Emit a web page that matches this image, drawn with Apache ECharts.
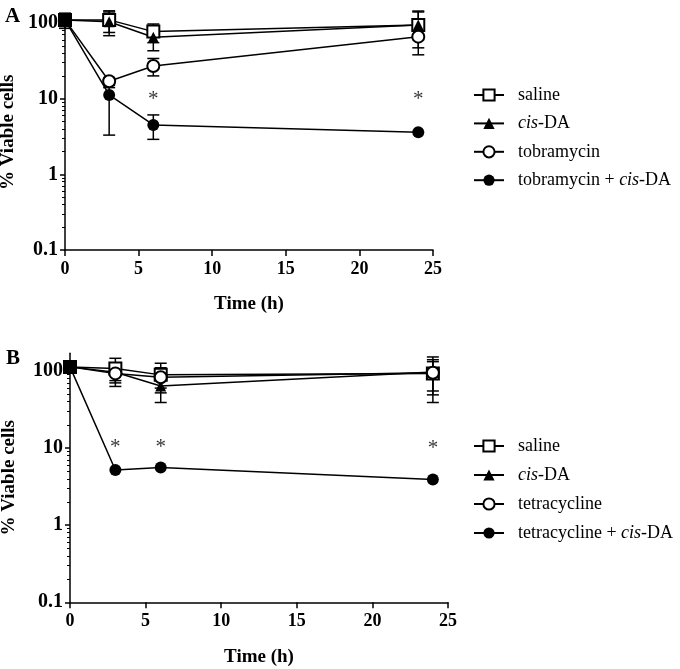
<!DOCTYPE html>
<html>
<head>
<meta charset="utf-8">
<script src="https://cdn.jsdelivr.net/npm/echarts@6/dist/echarts.min.js"></script>
<style>
html,body{margin:0;padding:0;background:#fff;}
#chart{width:680px;height:669px;}
</style>
</head>
<body>
<div id="chart"></div>
<script>
// ---- data ----
const time = [0, 3, 6, 24];
const xTicks = [0, 5, 10, 15, 20, 25];
const yTickLabels = [0.1, 1, 10, 100];
const yMinorTicks = [0.2,0.3,0.4,0.5,0.6,0.7,0.8,0.9,2,3,4,5,6,7,8,9,20,30,40,50,60,70,80,90];

// Panel A
const salineA = [110, 110, 77, 94];
const cisDA_A = [110, 104, 65, 94];
const tobraA = [110, 17, 27, 66];
const tobraCisA = [110, 11.2, 4.5, 3.6];
const salineA_err = [[0, 90, 135], [3, 75, 145], [6, 55, 97], [24, 60, 144]];
const cisDA_A_err = [[0, 85, 130], [3, 68, 140], [6, 43, 90], [24, 47, 140]];
const tobraA_err = [[3, 15, 19], [6, 20, 34], [24, 38, 100]];
const tobraCisA_err = [[3, 3.3, 14], [6, 2.9, 6.1]];
const asteriskA = [[6, 11], [24, 11]];

// Panel B
const salineB = [113, 108, 89, 93];
const cisDA_B = [113, 96, 64, 97];
const tetraB = [113, 93, 83, 95];
const tetraCisB = [113, 5.2, 5.6, 3.9];
const salineB_err = [[3, 70, 146], [6, 52, 126], [24, 49, 152]];
const cisDA_B_err = [[3, 63, 120], [6, 39, 100], [24, 39, 132]];
const tetraB_err = [[3, 75, 115], [6, 60, 110], [24, 55, 140]];
const asteriskB = [[3, 11.5], [6, 11.5], [24, 11]];

const legendA = ['saline', 'cis-DA', 'tobramycin', 'tobramycin + cis-DA'];
const legendB = ['saline', 'cis-DA', 'tetracycline', 'tetracycline + cis-DA'];

// ---- styling helpers ----
const SERIF = '"Liberation Serif", "Times New Roman", serif';
const BLACK = '#000';

function pts(vals) { return time.map((t, i) => [t, vals[i]]); }

function errRender(params, api) {
  const x = api.value(0), lo = api.value(1), hi = api.value(2);
  const p1 = api.coord([x, lo]), p2 = api.coord([x, hi]);
  const w = 6;
  const st = { stroke: BLACK, lineWidth: 1.5 };
  return { type: 'group', children: [
    { type: 'line', shape: { x1: p1[0], y1: p1[1], x2: p2[0], y2: p2[1] }, style: st },
    { type: 'line', shape: { x1: p1[0] - w, y1: p1[1], x2: p1[0] + w, y2: p1[1] }, style: st },
    { type: 'line', shape: { x1: p2[0] - w, y1: p2[1], x2: p2[0] + w, y2: p2[1] }, style: st }
  ]};
}

const markerStyles = {
  square: { symbol: 'rect', symbolSize: 12, itemStyle: { color: '#fff', borderColor: BLACK, borderWidth: 2 } },
  triangle: { symbol: 'triangle', symbolSize: 11, itemStyle: { color: BLACK, borderColor: BLACK, borderWidth: 0 } },
  open: { symbol: 'circle', symbolSize: 12, itemStyle: { color: '#fff', borderColor: BLACK, borderWidth: 2 } },
  filled: { symbol: 'circle', symbolSize: 12, itemStyle: { color: BLACK, borderColor: BLACK, borderWidth: 0 } }
};

function lineSeries(name, vals, marker, xi, yi) {
  const m = markerStyles[marker];
  return {
    type: 'line', name: name, xAxisIndex: xi, yAxisIndex: yi,
    data: pts(vals), symbol: m.symbol, symbolSize: m.symbolSize,
    showAllSymbol: true, itemStyle: m.itemStyle,
    lineStyle: { color: BLACK, width: 1.5 }, z: 3, animation: false
  };
}
function errSeries(data, xi, yi) {
  return { type: 'custom', xAxisIndex: xi, yAxisIndex: yi, renderItem: errRender,
    data: data, encode: { x: 0, y: [1, 2] }, z: 2, silent: true, animation: false };
}
function starSeries(data, xi, yi) {
  return { type: 'scatter', xAxisIndex: xi, yAxisIndex: yi, data: data, symbolSize: 1,
    itemStyle: { color: 'rgba(0,0,0,0)' }, silent: true, animation: false,
    label: { show: true, position: 'inside', formatter: '*', color: BLACK,
      fontFamily: SERIF, fontSize: 21, offset: [0, 4] } };
}

function xAxis(grid) {
  return {
    type: 'value', gridIndex: grid, min: 0, max: 25, interval: 5,
    name: 'Time (h)', nameLocation: 'middle', nameGap: 45,
    nameTextStyle: { fontFamily: SERIF, fontWeight: 'bold', fontSize: 19, color: BLACK },
    axisLine: { show: true, lineStyle: { color: BLACK, width: 1.5 } },
    axisTick: { show: true, length: 6, lineStyle: { color: BLACK, width: 1.5 } },
    axisLabel: { margin: 10, fontFamily: SERIF, fontWeight: 'bold', fontSize: 18, color: BLACK,
      customValues: xTicks },
    splitLine: { show: false }
  };
}
function yAxisMajor(grid, max, nameGap) {
  return {
    type: 'log', logBase: 10, gridIndex: grid, min: 0.1, max: max, position: 'left',
    name: '% Viable cells', nameLocation: 'middle', nameGap: nameGap,
    nameTextStyle: { fontFamily: SERIF, fontWeight: 'bold', fontSize: 19, color: BLACK },
    axisLine: { show: true, lineStyle: { color: BLACK, width: 1.5 } },
    axisTick: { show: true, length: 5, customValues: yTickLabels, lineStyle: { color: BLACK, width: 1.5 } },
    axisLabel: { margin: 7, fontFamily: SERIF, fontWeight: 'bold', fontSize: 20, color: BLACK,
      customValues: yTickLabels, formatter: v => String(v) },
    splitLine: { show: false }, minorTick: { show: false }
  };
}
function yAxisMinor(grid, max) {
  return {
    type: 'log', logBase: 10, gridIndex: grid, min: 0.1, max: max, position: 'left', offset: 0,
    axisLine: { show: false },
    axisTick: { show: true, length: 3, customValues: yMinorTicks, lineStyle: { color: BLACK, width: 1 } },
    axisLabel: { show: false }, splitLine: { show: false }
  };
}
function legend(names, top, gap) {
  return {
    orient: 'vertical', left: 473, top: top, data: names, padding: 0,
    itemWidth: 30, itemHeight: 14, itemGap: gap,
    textStyle: { fontFamily: SERIF, fontSize: 18, color: BLACK, lineHeight: 18, padding: [0, 0, 0, 9],
      rich: { i: { fontFamily: SERIF, fontSize: 18, fontStyle: 'italic', color: BLACK } } },
    formatter: n => n.replace('cis', '{i|cis}'),
    selectedMode: false
  };
}

const option = {
  animation: false,
  backgroundColor: '#fff',
  title: [
    { text: 'A', left: 0, top: 1, textStyle: { fontFamily: SERIF, fontWeight: 'bold', fontSize: 21, color: BLACK } },
    { text: 'B', left: 1, top: 343, textStyle: { fontFamily: SERIF, fontWeight: 'bold', fontSize: 21, color: BLACK } }
  ],
  grid: [
    { left: 65, top: 14.4, width: 368, height: 235.6, outerBoundsMode: 'none', containLabel: false },
    { left: 70, top: 353.2, width: 378, height: 249.1, outerBoundsMode: 'none', containLabel: false }
  ],
  xAxis: [xAxis(0), xAxis(1)],
  yAxis: [yAxisMajor(0, 130, 46), yAxisMinor(0, 130), yAxisMajor(1, 170, 51), yAxisMinor(1, 170)],
  legend: [legend(legendA, 86, 10.4), legend(legendB, 437, 11)],
  series: [
    errSeries(salineA_err, 0, 0), errSeries(cisDA_A_err, 0, 0), errSeries(tobraA_err, 0, 0), errSeries(tobraCisA_err, 0, 0),
    lineSeries('saline', salineA, 'square', 0, 0),
    lineSeries('cis-DA', cisDA_A, 'triangle', 0, 0),
    lineSeries('tobramycin', tobraA, 'open', 0, 0),
    lineSeries('tobramycin + cis-DA', tobraCisA, 'filled', 0, 0),
    starSeries(asteriskA, 0, 0),
    errSeries(salineB_err, 1, 2), errSeries(cisDA_B_err, 1, 2), errSeries(tetraB_err, 1, 2),
    lineSeries('saline', salineB, 'square', 1, 2),
    lineSeries('cis-DA', cisDA_B, 'triangle', 1, 2),
    lineSeries('tetracycline', tetraB, 'open', 1, 2),
    lineSeries('tetracycline + cis-DA', tetraCisB, 'filled', 1, 2),
    starSeries(asteriskB, 1, 2)
  ]
};

const chart = echarts.init(document.getElementById('chart'), null, { renderer: 'canvas' });
chart.setOption(option);
</script>
</body>
</html>
